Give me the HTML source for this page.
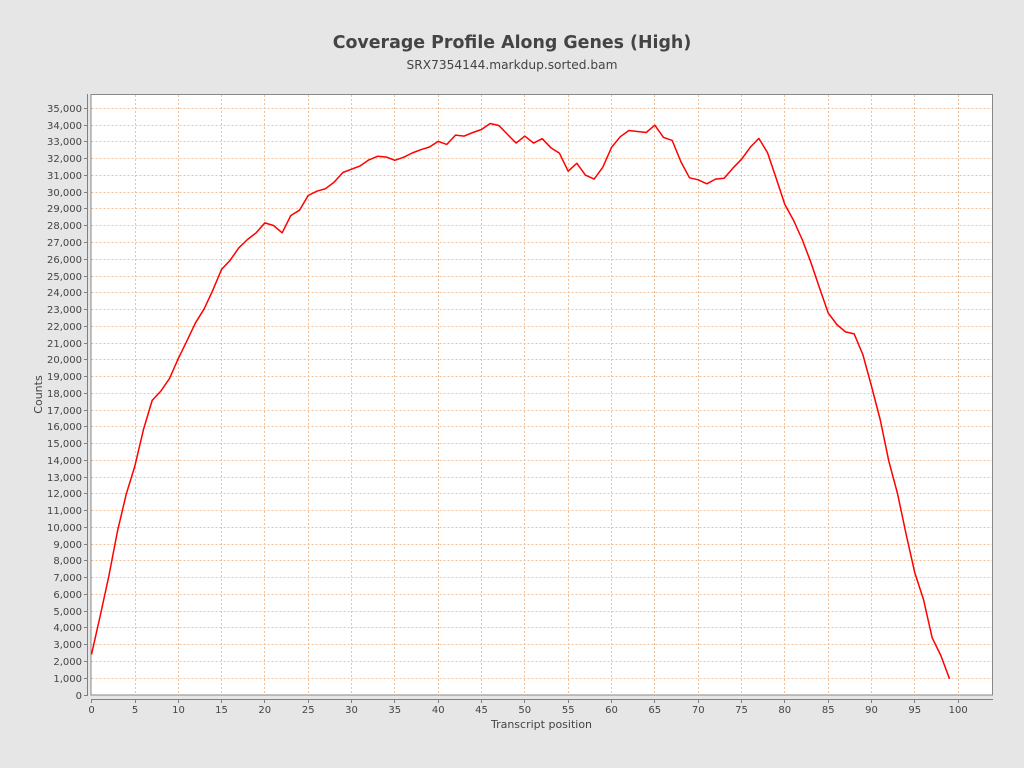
<!DOCTYPE html>
<html><head><meta charset="utf-8"><style>
html,body{margin:0;padding:0;background:#e6e6e6;}
svg{display:block;}
text{font-family:"DejaVu Sans","Liberation Sans",sans-serif;fill:#444;}
</style></head><body>
<svg width="1024" height="768" viewBox="0 0 1024 768" xmlns="http://www.w3.org/2000/svg">
<rect x="0" y="0" width="1024" height="768" fill="#e6e6e6"/>
<text x="512" y="48" text-anchor="middle" font-size="17.4" font-weight="bold" fill="#444">Coverage Profile Along Genes (High)</text>
<text x="512" y="69" text-anchor="middle" font-size="12.2">SRX7354144.markdup.sorted.bam</text>
<rect x="91" y="94.5" width="901.5" height="600.5" fill="#fff" stroke="#888" stroke-width="1"/>
<g stroke="#f0c09a" stroke-width="1" stroke-dasharray="2,2" shape-rendering="crispEdges">
<line x1="91.5" x2="992" y1="678.5" y2="678.5"/><line x1="91.5" x2="992" y1="661.5" y2="661.5"/><line x1="91.5" x2="992" y1="644.5" y2="644.5"/><line x1="91.5" x2="992" y1="627.5" y2="627.5"/><line x1="91.5" x2="992" y1="611.5" y2="611.5"/><line x1="91.5" x2="992" y1="594.5" y2="594.5"/><line x1="91.5" x2="992" y1="577.5" y2="577.5"/><line x1="91.5" x2="992" y1="560.5" y2="560.5"/><line x1="91.5" x2="992" y1="544.5" y2="544.5"/><line x1="91.5" x2="992" y1="527.5" y2="527.5"/><line x1="91.5" x2="992" y1="510.5" y2="510.5"/><line x1="91.5" x2="992" y1="493.5" y2="493.5"/><line x1="91.5" x2="992" y1="477.5" y2="477.5"/><line x1="91.5" x2="992" y1="460.5" y2="460.5"/><line x1="91.5" x2="992" y1="443.5" y2="443.5"/><line x1="91.5" x2="992" y1="426.5" y2="426.5"/><line x1="91.5" x2="992" y1="410.5" y2="410.5"/><line x1="91.5" x2="992" y1="393.5" y2="393.5"/><line x1="91.5" x2="992" y1="376.5" y2="376.5"/><line x1="91.5" x2="992" y1="359.5" y2="359.5"/><line x1="91.5" x2="992" y1="343.5" y2="343.5"/><line x1="91.5" x2="992" y1="326.5" y2="326.5"/><line x1="91.5" x2="992" y1="309.5" y2="309.5"/><line x1="91.5" x2="992" y1="292.5" y2="292.5"/><line x1="91.5" x2="992" y1="276.5" y2="276.5"/><line x1="91.5" x2="992" y1="259.5" y2="259.5"/><line x1="91.5" x2="992" y1="242.5" y2="242.5"/><line x1="91.5" x2="992" y1="225.5" y2="225.5"/><line x1="91.5" x2="992" y1="208.5" y2="208.5"/><line x1="91.5" x2="992" y1="192.5" y2="192.5"/><line x1="91.5" x2="992" y1="175.5" y2="175.5"/><line x1="91.5" x2="992" y1="158.5" y2="158.5"/><line x1="91.5" x2="992" y1="141.5" y2="141.5"/><line x1="91.5" x2="992" y1="125.5" y2="125.5"/><line x1="91.5" x2="992" y1="108.5" y2="108.5"/>
<line y1="95" y2="695" x1="135.5" x2="135.5"/><line y1="95" y2="695" x1="178.5" x2="178.5"/><line y1="95" y2="695" x1="221.5" x2="221.5"/><line y1="95" y2="695" x1="264.5" x2="264.5"/><line y1="95" y2="695" x1="308.5" x2="308.5"/><line y1="95" y2="695" x1="351.5" x2="351.5"/><line y1="95" y2="695" x1="394.5" x2="394.5"/><line y1="95" y2="695" x1="438.5" x2="438.5"/><line y1="95" y2="695" x1="481.5" x2="481.5"/><line y1="95" y2="695" x1="524.5" x2="524.5"/><line y1="95" y2="695" x1="568.5" x2="568.5"/><line y1="95" y2="695" x1="611.5" x2="611.5"/><line y1="95" y2="695" x1="654.5" x2="654.5"/><line y1="95" y2="695" x1="698.5" x2="698.5"/><line y1="95" y2="695" x1="741.5" x2="741.5"/><line y1="95" y2="695" x1="784.5" x2="784.5"/><line y1="95" y2="695" x1="828.5" x2="828.5"/><line y1="95" y2="695" x1="871.5" x2="871.5"/><line y1="95" y2="695" x1="914.5" x2="914.5"/><line y1="95" y2="695" x1="958.5" x2="958.5"/>
</g>
<g stroke="#808080" stroke-width="1" shape-rendering="crispEdges">
<line x1="87.5" x2="87.5" y1="94" y2="696"/>
<line x1="91" x2="993" y1="699.5" y2="699.5"/>
</g>
<g stroke="#808080" stroke-width="1" shape-rendering="crispEdges">
<line x1="84" x2="87" y1="695.5" y2="695.5"/><line x1="84" x2="87" y1="678.5" y2="678.5"/><line x1="84" x2="87" y1="661.5" y2="661.5"/><line x1="84" x2="87" y1="644.5" y2="644.5"/><line x1="84" x2="87" y1="627.5" y2="627.5"/><line x1="84" x2="87" y1="611.5" y2="611.5"/><line x1="84" x2="87" y1="594.5" y2="594.5"/><line x1="84" x2="87" y1="577.5" y2="577.5"/><line x1="84" x2="87" y1="560.5" y2="560.5"/><line x1="84" x2="87" y1="544.5" y2="544.5"/><line x1="84" x2="87" y1="527.5" y2="527.5"/><line x1="84" x2="87" y1="510.5" y2="510.5"/><line x1="84" x2="87" y1="493.5" y2="493.5"/><line x1="84" x2="87" y1="477.5" y2="477.5"/><line x1="84" x2="87" y1="460.5" y2="460.5"/><line x1="84" x2="87" y1="443.5" y2="443.5"/><line x1="84" x2="87" y1="426.5" y2="426.5"/><line x1="84" x2="87" y1="410.5" y2="410.5"/><line x1="84" x2="87" y1="393.5" y2="393.5"/><line x1="84" x2="87" y1="376.5" y2="376.5"/><line x1="84" x2="87" y1="359.5" y2="359.5"/><line x1="84" x2="87" y1="343.5" y2="343.5"/><line x1="84" x2="87" y1="326.5" y2="326.5"/><line x1="84" x2="87" y1="309.5" y2="309.5"/><line x1="84" x2="87" y1="292.5" y2="292.5"/><line x1="84" x2="87" y1="276.5" y2="276.5"/><line x1="84" x2="87" y1="259.5" y2="259.5"/><line x1="84" x2="87" y1="242.5" y2="242.5"/><line x1="84" x2="87" y1="225.5" y2="225.5"/><line x1="84" x2="87" y1="208.5" y2="208.5"/><line x1="84" x2="87" y1="192.5" y2="192.5"/><line x1="84" x2="87" y1="175.5" y2="175.5"/><line x1="84" x2="87" y1="158.5" y2="158.5"/><line x1="84" x2="87" y1="141.5" y2="141.5"/><line x1="84" x2="87" y1="125.5" y2="125.5"/><line x1="84" x2="87" y1="108.5" y2="108.5"/>
<line y1="700" y2="703" x1="91.5" x2="91.5"/><line y1="700" y2="703" x1="135.5" x2="135.5"/><line y1="700" y2="703" x1="178.5" x2="178.5"/><line y1="700" y2="703" x1="221.5" x2="221.5"/><line y1="700" y2="703" x1="264.5" x2="264.5"/><line y1="700" y2="703" x1="308.5" x2="308.5"/><line y1="700" y2="703" x1="351.5" x2="351.5"/><line y1="700" y2="703" x1="394.5" x2="394.5"/><line y1="700" y2="703" x1="438.5" x2="438.5"/><line y1="700" y2="703" x1="481.5" x2="481.5"/><line y1="700" y2="703" x1="524.5" x2="524.5"/><line y1="700" y2="703" x1="568.5" x2="568.5"/><line y1="700" y2="703" x1="611.5" x2="611.5"/><line y1="700" y2="703" x1="654.5" x2="654.5"/><line y1="700" y2="703" x1="698.5" x2="698.5"/><line y1="700" y2="703" x1="741.5" x2="741.5"/><line y1="700" y2="703" x1="784.5" x2="784.5"/><line y1="700" y2="703" x1="828.5" x2="828.5"/><line y1="700" y2="703" x1="871.5" x2="871.5"/><line y1="700" y2="703" x1="914.5" x2="914.5"/><line y1="700" y2="703" x1="958.5" x2="958.5"/>
</g>
<g font-size="10" text-anchor="end">
<text x="82" y="699">0</text><text x="82" y="682">1,000</text><text x="82" y="665">2,000</text><text x="82" y="648">3,000</text><text x="82" y="631">4,000</text><text x="82" y="615">5,000</text><text x="82" y="598">6,000</text><text x="82" y="581">7,000</text><text x="82" y="564">8,000</text><text x="82" y="548">9,000</text><text x="82" y="531">10,000</text><text x="82" y="514">11,000</text><text x="82" y="497">12,000</text><text x="82" y="481">13,000</text><text x="82" y="464">14,000</text><text x="82" y="447">15,000</text><text x="82" y="430">16,000</text><text x="82" y="414">17,000</text><text x="82" y="397">18,000</text><text x="82" y="380">19,000</text><text x="82" y="363">20,000</text><text x="82" y="347">21,000</text><text x="82" y="330">22,000</text><text x="82" y="313">23,000</text><text x="82" y="296">24,000</text><text x="82" y="280">25,000</text><text x="82" y="263">26,000</text><text x="82" y="246">27,000</text><text x="82" y="229">28,000</text><text x="82" y="212">29,000</text><text x="82" y="196">30,000</text><text x="82" y="179">31,000</text><text x="82" y="162">32,000</text><text x="82" y="145">33,000</text><text x="82" y="129">34,000</text><text x="82" y="112">35,000</text>
</g>
<g font-size="10" text-anchor="middle">
<text x="91.5" y="713">0</text><text x="135" y="713">5</text><text x="178.5" y="713">10</text><text x="221.5" y="713">15</text><text x="264.8" y="713">20</text><text x="308.2" y="713">25</text><text x="351.5" y="713">30</text><text x="394.8" y="713">35</text><text x="438.2" y="713">40</text><text x="481.5" y="713">45</text><text x="524.8" y="713">50</text><text x="568.2" y="713">55</text><text x="611.5" y="713">60</text><text x="654.8" y="713">65</text><text x="698.2" y="713">70</text><text x="741.5" y="713">75</text><text x="784.8" y="713">80</text><text x="828.2" y="713">85</text><text x="871.5" y="713">90</text><text x="914.8" y="713">95</text><text x="958.2" y="713">100</text>
</g>
<text x="541.5" y="728" text-anchor="middle" font-size="11">Transcript position</text>
<text transform="translate(42,394.5) rotate(-90)" x="0" y="0" text-anchor="middle" font-size="11">Counts</text>
<polyline fill="none" stroke="#ff0000" stroke-width="1.5" stroke-linejoin="round" points="91.5,654.4 100.17,616.0 108.83,576.1 117.5,531.1 126.17,494.4 134.83,466.1 143.5,429.4 152.17,400.4 160.83,391.1 169.5,378.5 178.17,358.8 186.83,341.1 195.5,322.8 204.17,308.8 212.83,290.2 221.5,269.5 230.17,260.2 238.83,247.8 247.5,239.5 256.17,232.8 264.83,222.9 273.5,225.5 282.17,232.8 290.83,215.5 299.5,210.2 308.17,195.5 316.83,191.2 325.5,188.7 334.17,182.1 342.83,172.5 351.5,169.2 360.17,165.9 368.83,159.9 377.5,156.3 386.17,157.0 394.83,160.3 403.5,157.3 412.17,153.0 420.83,149.7 429.5,147.0 438.17,141.4 446.83,144.4 455.5,135.1 464.17,136.1 472.83,132.5 481.5,129.5 490.17,123.5 498.83,125.5 507.5,134.4 516.17,143.1 524.83,136.1 533.5,143.1 542.17,138.7 550.83,147.7 559.5,153.3 568.17,171.2 576.83,163.3 585.5,175.2 594.17,179.1 602.83,167.2 611.5,147.4 620.17,136.8 628.83,130.5 637.5,131.5 646.17,132.5 654.83,125.2 663.5,137.4 672.17,140.4 680.83,161.6 689.5,177.8 698.17,179.8 706.83,183.8 715.5,179.1 724.17,178.2 732.83,168.2 741.5,159.3 750.17,147.4 758.83,138.4 767.5,152.6 776.17,178.2 784.83,204.5 793.5,220.2 802.17,239.5 810.83,262.2 819.5,287.9 828.17,312.9 836.83,324.5 845.5,331.9 854.17,333.9 862.83,354.5 871.5,386.2 880.17,419.5 888.83,461.2 897.5,493.5 906.17,534.5 914.83,572.9 923.5,599.5 932.17,637.8 940.83,655.5 949.5,678.8"/>
</svg>
</body></html>
